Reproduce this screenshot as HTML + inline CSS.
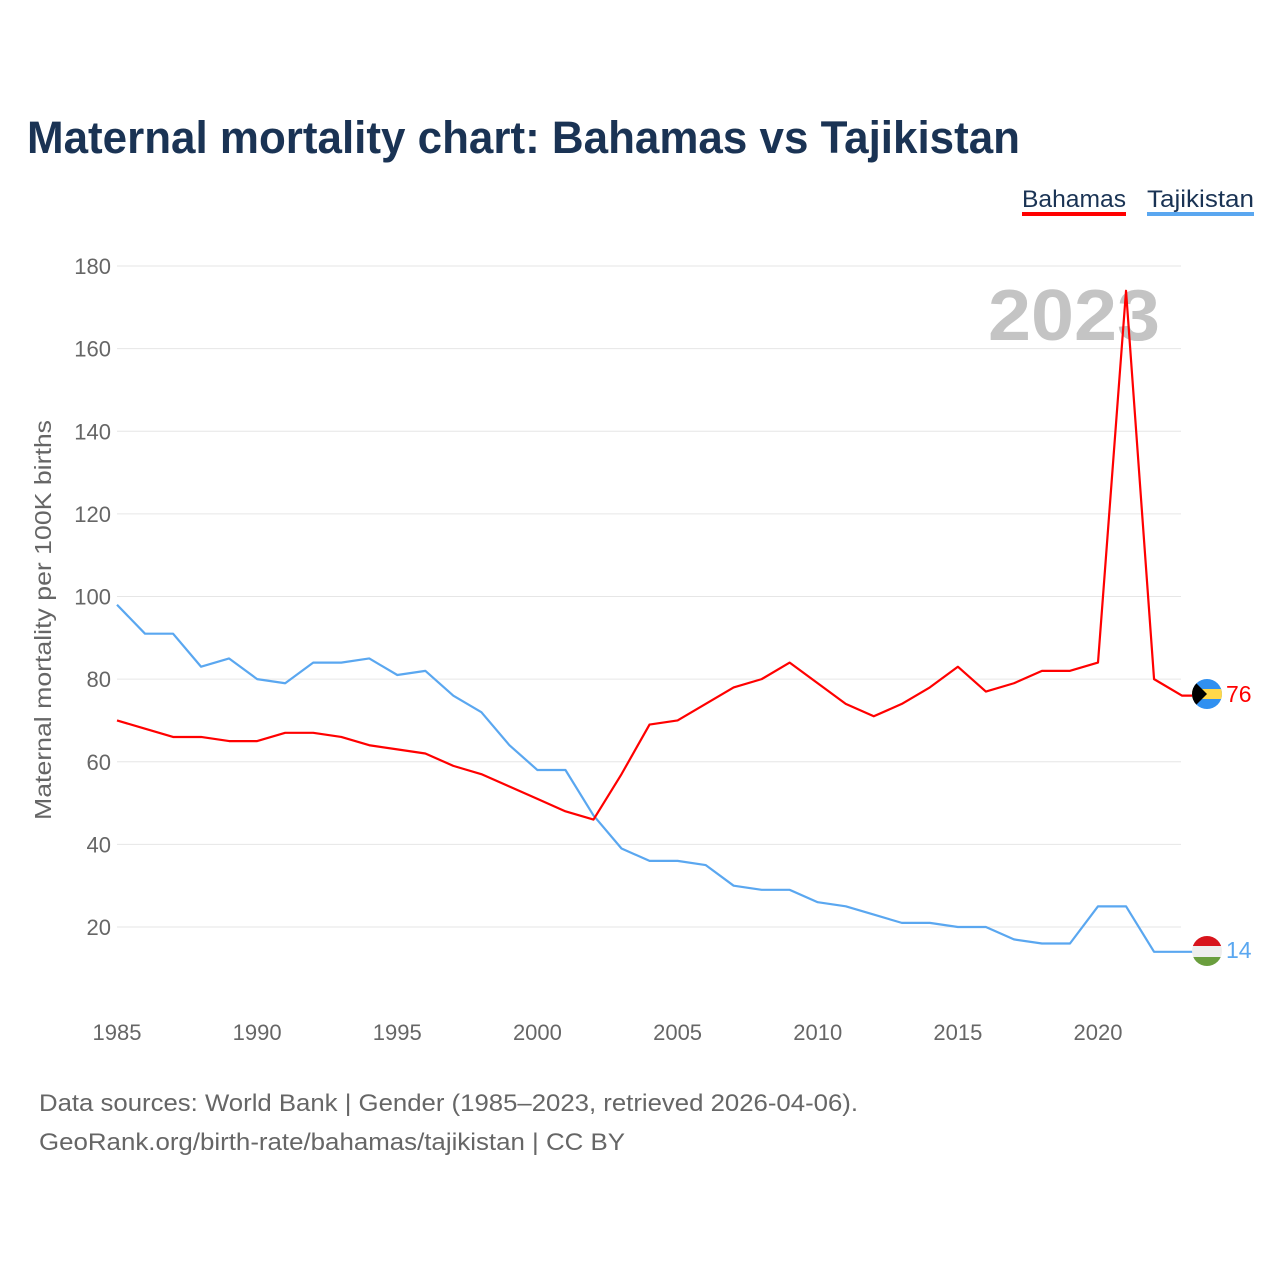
<!DOCTYPE html>
<html><head><meta charset="utf-8"><style>
body{margin:0;background:#fff;font-family:"Liberation Sans",sans-serif;}
svg text{font-family:"Liberation Sans",sans-serif;}
</style></head><body>
<svg id="chart" width="1280" height="1280" viewBox="0 0 1280 1280">
<rect width="1280" height="1280" fill="#fff"/>
<text x="27" y="153" font-size="45" font-weight="bold" fill="#1a3354" textLength="993" lengthAdjust="spacingAndGlyphs">Maternal mortality chart: Bahamas vs Tajikistan</text>
<g>
<text x="1022" y="207" font-size="24" fill="#1a3354" textLength="104" lengthAdjust="spacingAndGlyphs">Bahamas</text>
<rect x="1022" y="212" width="104" height="4" fill="#ff0000"/>
<text x="1147" y="207" font-size="24" fill="#1a3354" textLength="107" lengthAdjust="spacingAndGlyphs">Tajikistan</text>
<rect x="1147" y="212" width="107" height="4" fill="#5aa7f0"/>
</g>
<text x="1160" y="340" font-size="72" font-weight="bold" fill="#c4c4c4" text-anchor="end" textLength="172" lengthAdjust="spacingAndGlyphs">2023</text>
<g id="grid"></g><g id="xt"></g>
<text transform="translate(51,620) rotate(-90)" font-size="23" fill="#666" text-anchor="middle" textLength="400" lengthAdjust="spacingAndGlyphs">Maternal mortality per 100K births</text>
<g id="lines"></g>
<g>
<clipPath id="cb"><circle cx="1207" cy="694" r="15"/></clipPath>
<g clip-path="url(#cb)"><rect x="1190" y="678" width="34" height="32" fill="#3090f0"/><rect x="1190" y="689" width="34" height="10" fill="#ffd84a"/><polygon points="1192,679 1207,694 1192,709" fill="#000"/></g></g>
<g>
<clipPath id="ct"><circle cx="1207" cy="951" r="15"/></clipPath>
<g clip-path="url(#ct)"><rect x="1190" y="935" width="34" height="11" fill="#d8141c"/><rect x="1190" y="946" width="34" height="11" fill="#eee"/><rect x="1190" y="957" width="34" height="12" fill="#6a9e3e"/></g></g>
<text x="1226" y="702" font-size="23" fill="#ff0000">76</text>
<text x="1226" y="958" font-size="23" fill="#5aa7f0">14</text>
<text x="39" y="1111" font-size="24" fill="#666" textLength="819" lengthAdjust="spacingAndGlyphs">Data sources: World Bank | Gender (1985–2023, retrieved 2026-04-06).</text>
<text x="39" y="1150" font-size="24" fill="#666" textLength="586" lengthAdjust="spacingAndGlyphs">GeoRank.org/birth-rate/bahamas/tajikistan | CC BY</text>
</svg>
<script>
const years=[];for(let y=1985;y<=2023;y++)years.push(y);
const bahamas=[70,68,66,66,65,65,67,67,66,64,63,62,59,57,54,51,48,46,57,69,70,74,78,80,84,79,74,71,74,78,83,77,79,82,82,84,174,80,76];
const tajikistan=[98,91,91,83,85,80,79,84,84,85,81,82,76,72,64,58,58,47,39,36,36,35,30,29,29,26,25,23,21,21,20,20,17,16,16,25,25,14,14];
const yTicks=[20,40,60,80,100,120,140,160,180];
const xTicks=[1985,1990,1995,2000,2005,2010,2015,2020];
const NS="http://www.w3.org/2000/svg";
const xs=y=>117+(y-1985)*(1098-117)/35;
const ys=v=>927-(v-20)*(927-266)/160;
function mk(t,a,p){const e=document.createElementNS(NS,t);for(const k in a)e.setAttribute(k,a[k]);p.appendChild(e);return e;}
const g=document.getElementById('grid');
yTicks.forEach(v=>{
 const l=mk('line',{x1:117,x2:1181,y1:ys(v),y2:ys(v),stroke:'#e6e6e6','stroke-width':1},g);
 
 
 const t=mk('text',{x:111,y:ys(v)+8,'font-size':22,fill:'#666','text-anchor':'end'},g);
 
 
 t.textContent=v;});
const xt=document.getElementById('xt');
xTicks.forEach(v=>{
 const t=mk('text',{x:xs(v),y:1040,'font-size':22,fill:'#666','text-anchor':'middle'},xt);
 
 
 t.textContent=v;});
const L=document.getElementById('lines');
function series(d,c,name){
 let pts=d.map((v,i)=>xs(years[i])+','+ys(v)).join(' ');
 const last=ys(d[d.length-1]);
 pts+=' '+(xs(2023)+12)+','+last;
 const p=mk('polyline',{points:pts,fill:'none',stroke:c,'stroke-width':2.2,'stroke-linejoin':'round'},L);
 
 
}
series(tajikistan,'#5aa7f0','line-tajikistan');
series(bahamas,'#ff0000','line-bahamas');
</script>
</body></html>
